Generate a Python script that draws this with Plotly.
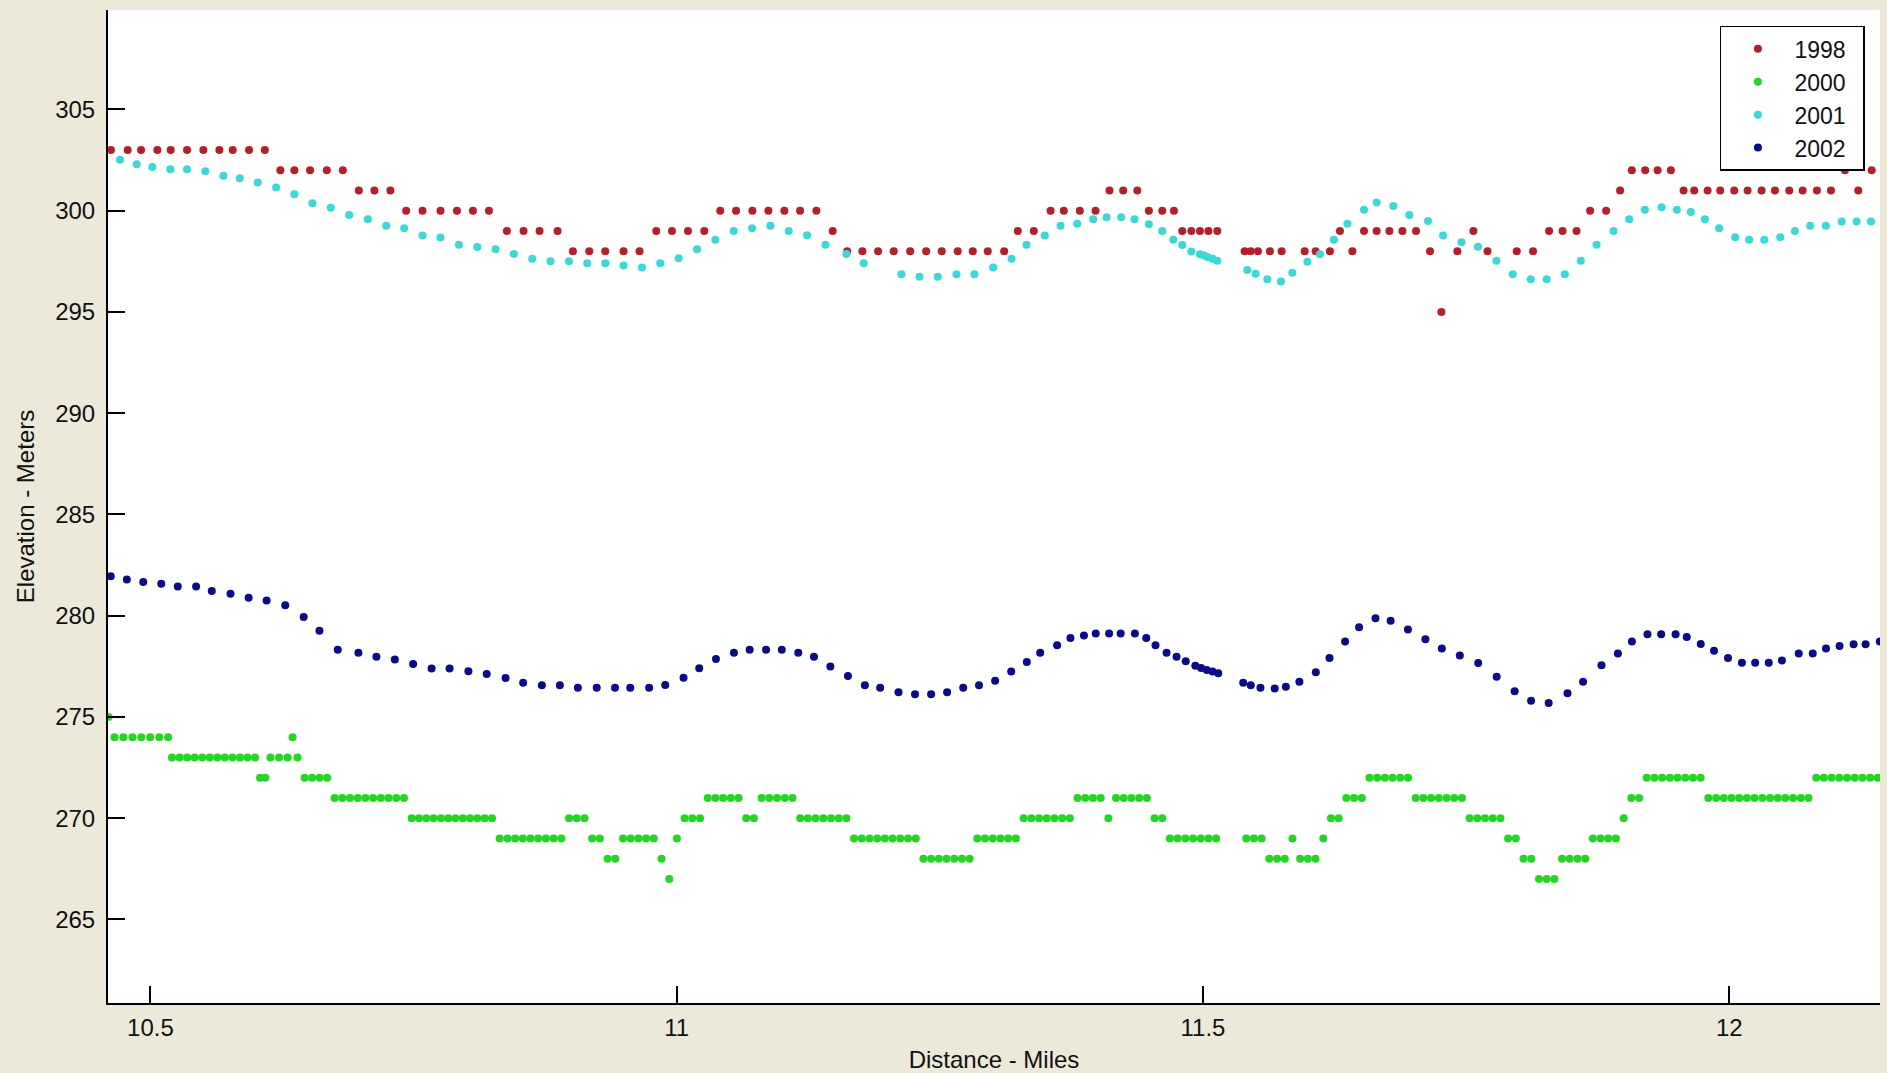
import plotly.graph_objects as go

# ---------------- data (distance in miles, elevation in meters) ----------------
x_1998 = [10.4625, 10.4784, 10.4911, 10.5066, 10.5193, 10.5348, 10.5503, 10.5655, 10.5782, 10.5937, 10.6087,
          10.6235, 10.6368, 10.6517, 10.6676, 10.6828,
          10.6980, 10.7128, 10.7280,
          10.7430, 10.7585, 10.7756, 10.7912, 10.8064, 10.8216,
          10.8387, 10.8545, 10.8697, 10.8868,
          10.9014, 10.9169, 10.9321, 10.9495, 10.9647,
          10.9806, 10.9955, 11.0107, 11.0262,
          11.0414, 11.0564, 11.0719, 11.0871, 11.1023, 11.1172, 11.1327,
          11.1482,
          11.1619, 11.1764, 11.1913, 11.2062, 11.2218, 11.2370, 11.2518, 11.2670, 11.2813, 11.2955, 11.3111,
          11.3241, 11.3393,
          11.3552, 11.3678, 11.3830, 11.3979,
          11.4112, 11.4242, 11.4376,
          11.4486, 11.4613, 11.4724,
          11.4803, 11.4889, 11.4971, 11.5051, 11.5136,
          11.5396, 11.5453, 11.5522, 11.5636, 11.5747,
          11.5966, 11.6070, 11.6206,
          11.6301,
          11.6419,
          11.6530, 11.6650, 11.6771, 11.6895, 11.7024,
          11.7157, 11.7265, 11.7417, 11.7569, 11.7703,
          11.7981, 11.8136,
          11.8288, 11.8416, 11.8549,
          11.8678, 11.8830,
          11.8963,
          11.9074, 11.9201, 11.9319, 11.9445,
          11.9566, 11.9667, 11.9794, 11.9914, 12.0047, 12.0174, 12.0307, 12.0434, 12.0570, 12.0697, 12.0833, 12.0966,
          12.1099, 12.1226, 12.1353]
y_1998 = [303, 303, 303, 303, 303, 303, 303, 303, 303, 303, 303,
          302, 302, 302, 302, 302,
          301, 301, 301,
          300, 300, 300, 300, 300, 300,
          299, 299, 299, 299,
          298, 298, 298, 298, 298,
          299, 299, 299, 299,
          300, 300, 300, 300, 300, 300, 300,
          299,
          298, 298, 298, 298, 298, 298, 298, 298, 298, 298, 298,
          299, 299,
          300, 300, 300, 300,
          301, 301, 301,
          300, 300, 300,
          299, 299, 299, 299, 299,
          298, 298, 298, 298, 298,
          298, 298, 298,
          299,
          298,
          299, 299, 299, 299, 299,
          298, 295, 298, 299, 298,
          298, 298,
          299, 299, 299,
          300, 300,
          301,
          302, 302, 302, 302,
          301, 301, 301, 301, 301, 301, 301, 301, 301, 301, 301, 301,
          302, 301, 302]

x_2000 = [10.4602,
          10.4659, 10.4743, 10.4829, 10.4913, 10.4998, 10.5084, 10.5168,
          10.5205, 10.5277, 10.5349, 10.5420, 10.5492, 10.5564, 10.5636, 10.5707, 10.5779, 10.5851, 10.5923, 10.5994,
          10.6042, 10.6092,
          10.6140, 10.6222, 10.6303,
          10.6351,
          10.6398,
          10.6465, 10.6536, 10.6607, 10.6679,
          10.6750, 10.6823, 10.6896, 10.6970, 10.7043, 10.7116, 10.7189, 10.7262, 10.7336, 10.7409,
          10.7482, 10.7551, 10.7621, 10.7690, 10.7760, 10.7829, 10.7898, 10.7968, 10.8037, 10.8106, 10.8176, 10.8245,
          10.8318, 10.8392, 10.8465, 10.8538, 10.8611, 10.8684, 10.8757, 10.8831, 10.8904,
          10.8977, 10.9050, 10.9124,
          10.9197, 10.9270,
          10.9343, 10.9416,
          10.9490, 10.9563, 10.9636, 10.9709, 10.9782,
          10.9856,
          10.9929,
          11.0002,
          11.0075, 11.0148, 11.0222,
          11.0295, 11.0368, 11.0441, 11.0514, 11.0588,
          11.0661, 11.0734,
          11.0807, 11.0880, 11.0953, 11.1027, 11.1100,
          11.1173, 11.1246, 11.1319, 11.1393, 11.1466, 11.1539, 11.1612,
          11.1685, 11.1758, 11.1832, 11.1905, 11.1978, 11.2051, 11.2124, 11.2198, 11.2271,
          11.2344, 11.2417, 11.2490, 11.2563, 11.2637, 11.2710, 11.2783,
          11.2856, 11.2929, 11.3003, 11.3076, 11.3149, 11.3222,
          11.3296, 11.3369, 11.3442, 11.3515, 11.3588, 11.3662, 11.3735,
          11.3808, 11.3881, 11.3954, 11.4028,
          11.4101,
          11.4174, 11.4247, 11.4320, 11.4394, 11.4467,
          11.4540, 11.4613,
          11.4686, 11.4759, 11.4833, 11.4906, 11.4979, 11.5052, 11.5125,
          11.5411, 11.5484, 11.5557,
          11.5630, 11.5704, 11.5777,
          11.5850,
          11.5923, 11.5996, 11.6069,
          11.6143,
          11.6216, 11.6289,
          11.6362, 11.6435, 11.6509,
          11.6582, 11.6655, 11.6728, 11.6801, 11.6874, 11.6948,
          11.7021, 11.7094, 11.7167, 11.7240, 11.7314, 11.7387, 11.7460,
          11.7533, 11.7606, 11.7679, 11.7753, 11.7826,
          11.7899, 11.7972,
          11.8045, 11.8119,
          11.8192, 11.8265, 11.8338,
          11.8411, 11.8484, 11.8558, 11.8631,
          11.8704, 11.8777, 11.8850, 11.8923,
          11.8997,
          11.9070, 11.9143,
          11.9216, 11.9289, 11.9362, 11.9436, 11.9509, 11.9582, 11.9655, 11.9728,
          11.9801, 11.9875, 11.9948, 12.0021, 12.0094, 12.0167, 12.0240, 12.0314, 12.0387, 12.0460, 12.0533, 12.0606, 12.0680, 12.0753,
          12.0826, 12.0899, 12.0972, 12.1045, 12.1119, 12.1192, 12.1265, 12.1338, 12.1411]
y_2000 = [275,
          274, 274, 274, 274, 274, 274, 274,
          273, 273, 273, 273, 273, 273, 273, 273, 273, 273, 273, 273,
          272, 272,
          273, 273, 273,
          274,
          273,
          272, 272, 272, 272,
          271, 271, 271, 271, 271, 271, 271, 271, 271, 271,
          270, 270, 270, 270, 270, 270, 270, 270, 270, 270, 270, 270,
          269, 269, 269, 269, 269, 269, 269, 269, 269,
          270, 270, 270,
          269, 269,
          268, 268,
          269, 269, 269, 269, 269,
          268,
          267,
          269,
          270, 270, 270,
          271, 271, 271, 271, 271,
          270, 270,
          271, 271, 271, 271, 271,
          270, 270, 270, 270, 270, 270, 270,
          269, 269, 269, 269, 269, 269, 269, 269, 269,
          268, 268, 268, 268, 268, 268, 268,
          269, 269, 269, 269, 269, 269,
          270, 270, 270, 270, 270, 270, 270,
          271, 271, 271, 271,
          270,
          271, 271, 271, 271, 271,
          270, 270,
          269, 269, 269, 269, 269, 269, 269,
          269, 269, 269,
          268, 268, 268,
          269,
          268, 268, 268,
          269,
          270, 270,
          271, 271, 271,
          272, 272, 272, 272, 272, 272,
          271, 271, 271, 271, 271, 271, 271,
          270, 270, 270, 270, 270,
          269, 269,
          268, 268,
          267, 267, 267,
          268, 268, 268, 268,
          269, 269, 269, 269,
          270,
          271, 271,
          272, 272, 272, 272, 272, 272, 272, 272,
          271, 271, 271, 271, 271, 271, 271, 271, 271, 271, 271, 271, 271, 271,
          272, 272, 272, 272, 272, 272, 272, 272, 272]

x_2001 = [10.4711, 10.4870, 10.5018, 10.5189, 10.5348, 10.5522, 10.5693, 10.5849, 10.6020, 10.6194,
          10.6368, 10.6539, 10.6714, 10.6888, 10.7066, 10.7240, 10.7411, 10.7585, 10.7756, 10.7931,
          10.8105, 10.8279, 10.8453, 10.8627, 10.8801, 10.8976, 10.9150, 10.9322, 10.9495, 10.9670,
          10.9844, 11.0018, 11.0193, 11.0367, 11.0541, 11.0716, 11.0890, 11.1064, 11.1239, 11.1413,
          11.1612, 11.1777, 11.2135, 11.2306, 11.2480, 11.2658, 11.2829, 11.3007, 11.3181, 11.3323,
          11.3497, 11.3647, 11.3805, 11.3957, 11.4084, 11.4223, 11.4350, 11.4486, 11.4613, 11.4718,
          11.4803, 11.4889, 11.4971, 11.5009, 11.5047, 11.5092, 11.5136, 11.5421, 11.5500, 11.5611,
          11.5741, 11.5849, 11.5992, 11.6111, 11.6244, 11.6372, 11.6530, 11.6650, 11.6809, 11.6961,
          11.7138, 11.7281, 11.7456, 11.7613, 11.7788, 11.7943, 11.8114, 11.8266, 11.8437, 11.8589,
          11.8739, 11.8900, 11.9049, 11.9198, 11.9357, 11.9502, 11.9635, 11.9768, 11.9904, 12.0056,
          12.0189, 12.0332, 12.0484, 12.0624, 12.0769, 12.0918, 12.1068, 12.1210, 12.1346]
y_2001 = [302.51, 302.29, 302.16, 302.05, 302.05, 301.95, 301.72, 301.60, 301.39, 301.14,
          300.81, 300.37, 300.15, 299.78, 299.58, 299.25, 299.13, 298.77, 298.67, 298.32,
          298.21, 298.10, 297.86, 297.63, 297.50, 297.50, 297.40, 297.40, 297.29, 297.19,
          297.40, 297.65, 298.10, 298.56, 299.00, 299.13, 299.25, 299.00, 298.79, 298.32,
          297.86, 297.40, 296.86, 296.74, 296.74, 296.86, 296.86, 297.19, 297.63, 298.32,
          298.77, 299.25, 299.35, 299.58, 299.68, 299.68, 299.58, 299.33, 299.00, 298.56,
          298.31, 297.98, 297.85, 297.78, 297.70, 297.62, 297.53, 297.07, 296.88, 296.61,
          296.50, 296.94, 297.48, 297.85, 298.56, 299.35, 300.04, 300.40, 300.23, 299.79,
          299.49, 298.77, 298.44, 298.22, 297.53, 296.86, 296.61, 296.61, 296.86, 297.53,
          298.32, 299.00, 299.58, 300.04, 300.17, 300.04, 299.93, 299.58, 299.13, 298.69,
          298.56, 298.56, 298.69, 299.00, 299.25, 299.25, 299.46, 299.46, 299.46]

x_2002 = [10.4623, 10.4776, 10.4932, 10.5103, 10.5260, 10.5434, 10.5583, 10.5761, 10.5933, 10.6104,
          10.6281, 10.6456, 10.6606, 10.6780, 10.6976, 10.7147, 10.7322, 10.7496, 10.7671, 10.7842,
          10.8021, 10.8195, 10.8374, 10.8541, 10.8719, 10.8890, 10.9061, 10.9240, 10.9414, 10.9559,
          10.9738, 10.9891, 11.0065, 11.0214, 11.0373, 11.0544, 11.0693, 11.0849, 11.0998, 11.1155,
          11.1304, 11.1460, 11.1627, 11.1788, 11.1933, 11.2107, 11.2264, 11.2417, 11.2569, 11.2722,
          11.2872, 11.3025, 11.3178, 11.3326, 11.3453, 11.3614, 11.3741, 11.3869, 11.3981, 11.4108,
          11.4218, 11.4353, 11.4461, 11.4549, 11.4654, 11.4749, 11.4836, 11.4927, 11.4982, 11.5036,
          11.5091, 11.5145, 11.5382, 11.5454, 11.5546, 11.5681, 11.5787, 11.5916, 11.6072, 11.6202,
          11.6350, 11.6483, 11.6639, 11.6783, 11.6947, 11.7113, 11.7269, 11.7440, 11.7615, 11.7790,
          11.7961, 11.8117, 11.8284, 11.8463, 11.8611, 11.8786, 11.8942, 11.9075, 11.9223, 11.9353,
          11.9490, 11.9596, 11.9729, 11.9855, 11.9988, 12.0120, 12.0246, 12.0375, 12.0500, 12.0660,
          12.0793, 12.0919, 12.1048, 12.1181, 12.1295, 12.1430]
y_2002 = [281.95, 281.78, 281.66, 281.58, 281.44, 281.44, 281.22, 281.08, 280.88, 280.75,
          280.51, 279.93, 279.25, 278.32, 278.17, 277.97, 277.83, 277.61, 277.39, 277.39,
          277.25, 277.12, 276.92, 276.68, 276.56, 276.56, 276.44, 276.44, 276.44, 276.44,
          276.44, 276.58, 276.93, 277.40, 277.86, 278.17, 278.32, 278.32, 278.32, 278.17,
          277.97, 277.49, 277.02, 276.56, 276.44, 276.22, 276.12, 276.12, 276.22, 276.44,
          276.56, 276.78, 277.24, 277.71, 278.17, 278.54, 278.90, 279.02, 279.12, 279.12,
          279.12, 279.12, 278.90, 278.54, 278.17, 277.97, 277.75, 277.53, 277.41, 277.32,
          277.24, 277.15, 276.68, 276.56, 276.44, 276.40, 276.49, 276.74, 277.20, 277.91,
          278.72, 279.43, 279.87, 279.75, 279.31, 278.84, 278.38, 278.03, 277.66, 276.98,
          276.27, 275.80, 275.68, 276.17, 276.74, 277.55, 278.13, 278.72, 279.08, 279.08,
          279.08, 278.94, 278.60, 278.27, 277.91, 277.67, 277.67, 277.67, 277.79, 278.13,
          278.13, 278.38, 278.50, 278.59, 278.59, 278.72]

series_names = ["1998", "2000", "2001", "2002"]
series_colors = ["#b51e2a", "#22d622", "#3cd8d8", "#0a0a8a"]
y_tick_values = [265, 270, 275, 280, 285, 290, 295, 300, 305]
x_tick_values = [10.5, 11, 11.5, 12]
x_tick_labels = ["10.5", "11", "11.5", "12"]

# ---------------- figure ----------------
FONT = "Liberation Sans, Arial, Helvetica, sans-serif"
NBSP = "\u00a0"
fig = go.Figure()
for name, xs, ys, col in zip(series_names,
                             [x_1998, x_2000, x_2001, x_2002],
                             [y_1998, y_2000, y_2001, y_2002],
                             series_colors):
    fig.add_trace(go.Scatter(x=xs, y=ys, mode="markers", name=name + NBSP * 2,
                             marker=dict(color=col, size=8, symbol="circle",
                                         line=dict(width=0))))

axis_common = dict(showgrid=False, zeroline=False, showline=True, linecolor="black",
                   linewidth=2, ticks="inside", ticklen=17, tickwidth=1.5,
                   tickcolor="black", mirror=False, automargin=False,
                   tickfont=dict(family=FONT, size=24, color="#111111"))

fig.update_layout(
    width=1887, height=1073,
    paper_bgcolor="#ece9d8", plot_bgcolor="white",
    margin=dict(l=108, r=7, t=10, b=70, pad=0),
    font=dict(family=FONT, size=24, color="#111111"),
    xaxis=dict(range=[10.4597, 12.1432], tickvals=x_tick_values, ticktext=x_tick_labels,
               ticklabelstandoff=2,
               title=dict(text="Distance - Miles", standoff=16,
                          font=dict(family=FONT, size=24)),
               **axis_common),
    yaxis=dict(range=[260.87, 309.91], tickvals=y_tick_values,
               ticklabelstandoff=6,
               title=dict(text="Elevation - Meters", standoff=14,
                          font=dict(family=FONT, size=24)),
               **axis_common),
    legend=dict(x=0.9915, xanchor="right", y=0.984, yanchor="top",
                bgcolor="white", bordercolor="black", borderwidth=1.5,
                font=dict(family=FONT, size=23), tracegroupgap=0,
                itemwidth=63),
    showlegend=True,
)

fig.write_html("out.html", config={"displayModeBar": False},
               post_script="document.body.style.margin='0';")
